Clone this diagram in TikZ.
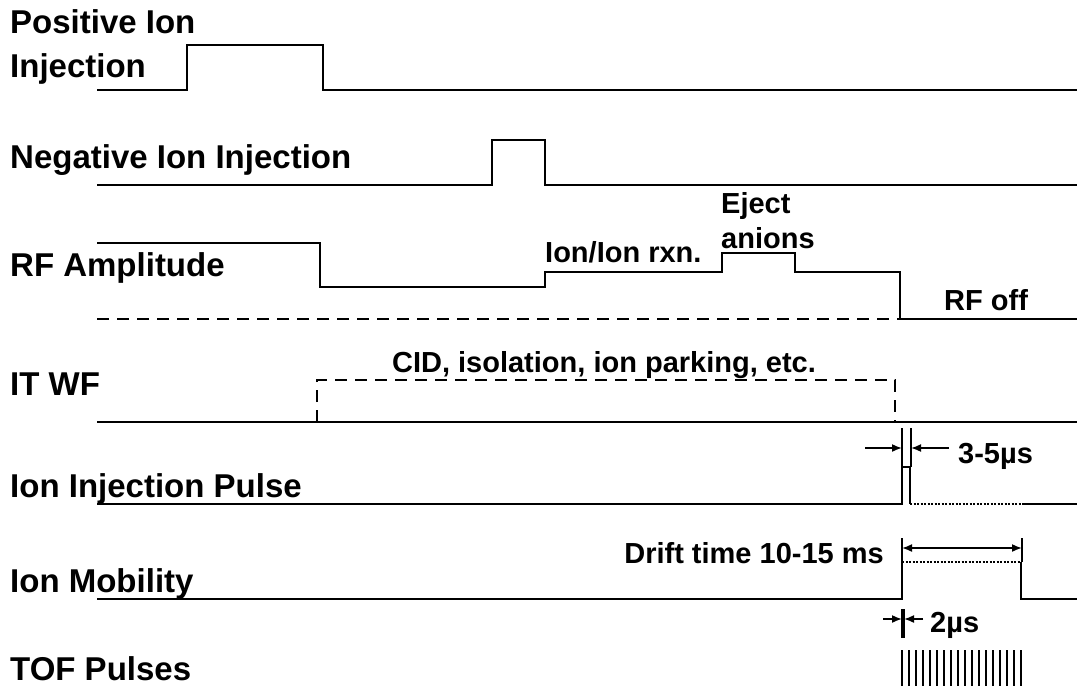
\documentclass[tikz,border=0pt]{standalone}
\usepackage{fontspec}
\setmainfont{Liberation Sans}
\usetikzlibrary{arrows.meta, positioning}

\begin{document}
\begin{tikzpicture}[x=1pt, y=-1pt, >={Latex[length=10pt,width=8pt]},
  wave/.style={line width=2.8pt, line join=miter},
  refline/.style={line width=2.8pt, dash pattern=on 12pt off 8pt},
  dotline/.style={line width=2.4pt, dash pattern=on 2pt off 1.5pt},
  dimline/.style={line width=1.6pt},
  sig/.style={font=\fontsize{33}{38}\selectfont\bfseries, inner sep=0pt, anchor=base west},
  note/.style={font=\fontsize{29}{34}\selectfont\bfseries, inner sep=0pt}]
  \useasboundingbox (0,0) rectangle (1077,686);

  % Signal names
  \node[sig] (posinj)    at (10,33)  {Positive Ion};
  \node[sig] (posinjb)   at (10,77)  {Injection};
  \node[sig] (neginj)    at (10,168) {Negative Ion Injection};
  \node[sig] (rfamp)     at (10,276) {RF Amplitude};
  \node[sig] (itwf)      at (10,395) {IT WF};
  \node[sig] (injpulse)  at (10,497) {Ion Injection Pulse};
  \node[sig] (mobility)  at (10,592) {Ion Mobility};
  \node[sig] (tofpulses) at (10,680) {TOF Pulses};

  % Positive / negative ion injection
  \draw[wave] (97,90) -- (187,90) -- (187,45) -- (323,45) -- (323,90) -- (1077,90);
  \draw[wave] (97,185) -- (492,185) -- (492,140) -- (545,140) -- (545,185) -- (1077,185);

  % RF amplitude
  \draw[refline] (97,319) -- (900,319);
  \draw[wave] (97,243) -- (320,243) -- (320,287) -- (545,287) -- (545,272) -- (722,272)
    -- (722,253) -- (795,253) -- (795,272) -- (900,272) -- (900,319) -- (1077,319);
  \node[note, anchor=base west] (ionion) at (545,262) {Ion/Ion rxn.};
  \node[note, anchor=base west] (eject)  at (721,213) {Eject};
  \node[note, anchor=base west] (anions) at (721,248) {anions};
  \node[note, anchor=base west] (rfoff)  at (944,310) {RF off};

  % IT waveform
  \draw[wave] (97,422) -- (1077,422);
  \draw[refline] (317,422) -- (317,380) -- (895,380) -- (895,422);
  \node[note, anchor=base] (cid) at (604,372) {CID, isolation, ion parking, etc.};

  % Ion injection pulse
  \draw[wave] (97,504) -- (902,504) -- (902,467) -- (910,467) -- (910,504);
  \draw[dotline] (910,504) -- (1023,504);
  \draw[wave] (1023,504) -- (1077,504);
  \coordinate (ipl) at (902,448);
  \coordinate (ipr) at (911,448);
  \draw[dimline] (902,428) -- (902,467) (911,428) -- (911,467);
  \draw[dimline, ->] (865,448) -- (ipl);
  \draw[dimline, ->] (949,448) -- (ipr);
  \node[note, anchor=base west] (ttfive) at (958,463) {3-5µs};

  % Ion mobility
  \draw[wave] (97,599) -- (902,599) -- (902,562);
  \draw[dotline] (902,562) -- (1021,562);
  \draw[wave] (1021,562) -- (1021,599) -- (1077,599);
  \coordinate (drl) at (902,548);
  \coordinate (drr) at (1022,548);
  \draw[dimline] (902,538) -- (902,562) (1022,538) -- (1022,562);
  \draw[dimline, <->] (drl) -- (drr);
  \node[note, anchor=base east] (drift) at (884,563) {Drift time 10-15 ms};

  % TOF pulses
  \coordinate (tpl) at (902,619);
  \coordinate (tpr) at (904,619);
  \draw[dimline] (902,609) -- (902,638) (904,609) -- (904,638);
  \draw[dimline, ->] (883,619) -- (tpl);
  \draw[dimline, ->] (923,619) -- (tpr);
  \node[note, anchor=base west] (twous) at (930,632) {2µs};
  \foreach \i in {0,...,17}
    \draw[line width=2.4pt] ({902+7*\i},650) -- ({902+7*\i},686);
\end{tikzpicture}
\end{document}
